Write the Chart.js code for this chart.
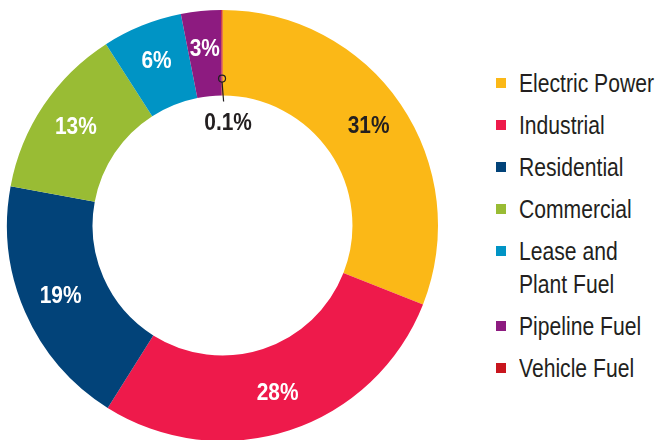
<!DOCTYPE html>
<html>
<head>
<meta charset="utf-8">
<script src="https://cdn.jsdelivr.net/npm/chart.js@4.4.1/dist/chart.umd.min.js"></script>
<style>
  html, body { margin: 0; padding: 0; background: #fff; overflow: hidden; }
  body { width: 657px; height: 440px; position: relative; }
  #pie { position: absolute; left: 0; top: 0; }
  #legend {
    position: absolute; left: 496px; top: 67px; width: 220px;
    font-family: "Liberation Sans", Arial, sans-serif;
    font-size: 25px; color: #231f20;
  }
  .item { position: relative; padding-left: 23px; line-height: 33px; margin-bottom: 9px; white-space: nowrap; }
  .item span.txt { display: inline-block; white-space: pre; transform: scaleX(0.845); transform-origin: 0 0; }
  .box { position: absolute; left: 0; top: 11px; width: 10px; height: 10px; }
</style>
</head>
<body>
<canvas id="pie" width="445" height="451"></canvas>
<div id="legend"></div>
<script>
// 数据
const categories = ["Electric Power", "Industrial", "Residential", "Commercial", "Lease and\nPlant Fuel", "Pipeline Fuel", "Vehicle Fuel"];
const shares = [31, 28, 19, 13, 6, 3, 0.1];
const shareLabels = ["31%", "28%", "19%", "13%", "6%", "3%", "0.1%"];
const colors = ["#fbb817", "#ee1a4b", "#024379", "#99bc34", "#0094c5", "#8d1b80", "#c8161e"];
const darkText = "#231f20";

const labelFont = 'bold 24px "Liberation Sans", Arial, sans-serif';

// 画一段压窄的文字（模拟窄体字）
function narrowText(ctx, text, x, y) {
  ctx.save();
  ctx.translate(x, y);
  ctx.scale(0.87, 1);
  ctx.fillText(text, 0, 0);
  ctx.restore();
}

// 扇区内的百分比标签
const sliceLabels = {
  id: "sliceLabels",
  afterDatasetsDraw(chart) {
    const ctx = chart.ctx;
    const meta = chart.getDatasetMeta(0);
    ctx.save();
    ctx.font = labelFont;
    ctx.textAlign = "center";
    ctx.textBaseline = "middle";
    meta.data.forEach((arc, i) => {
      const p = arc.getProps(["x", "y", "startAngle", "endAngle", "innerRadius", "outerRadius"], true);
      const mid = (p.startAngle + p.endAngle) / 2;
      if (shares[i] < 1) {
        // 太小的扇区：引线 + 圆圈，文字放在中间空白处
        const r1 = p.innerRadius + 17, r2 = p.innerRadius - 6;
        const cx = p.x + Math.cos(mid) * r1, cy = p.y + Math.sin(mid) * r1;
        ctx.strokeStyle = darkText;
        ctx.lineWidth = 1.2;
        ctx.beginPath();
        ctx.arc(cx, cy, 3.5, 0, Math.PI * 2);
        ctx.stroke();
        ctx.beginPath();
        ctx.moveTo(cx, cy + 3.5);
        ctx.lineTo(p.x + Math.cos(mid) * r2 + 1.5, p.y + Math.sin(mid) * r2);
        ctx.stroke();
        ctx.fillStyle = darkText;
        narrowText(ctx, shareLabels[i], p.x + Math.cos(mid) * r2 + 6, p.y + Math.sin(mid) * (p.innerRadius - 28));
        return;
      }
      const r = (p.innerRadius + p.outerRadius) / 2 + 4;
      ctx.fillStyle = i === 0 ? darkText : "#fff";
      narrowText(ctx, shareLabels[i], p.x + Math.cos(mid) * r, p.y + Math.sin(mid) * r);
    });
    ctx.restore();
  }
};

window.addEventListener("DOMContentLoaded", () => {
  new Chart(document.getElementById("pie"), {
    type: "doughnut",
    data: {
      labels: categories,
      datasets: [{
        data: shares,
        backgroundColor: colors,
        borderWidth: 0,
        hoverOffset: 0,
        offset: 0
      }]
    },
    options: {
      responsive: false,
      animation: false,
      cutout: "60.3%",
      layout: { padding: 7 },
      plugins: {
        legend: { display: false },
        tooltip: { enabled: false }
      }
    },
    plugins: [sliceLabels]
  });

  // 右侧图例
  const legend = document.getElementById("legend");
  categories.forEach((name, i) => {
    const item = document.createElement("div");
    item.className = "item";
    item.innerHTML = '<span class="box" style="background:' + colors[i] + '"></span>';
    const txt = document.createElement("span");
    txt.className = "txt";
    txt.textContent = name;
    item.appendChild(txt);
    legend.appendChild(item);
  });
});
</script>
</body>
</html>
